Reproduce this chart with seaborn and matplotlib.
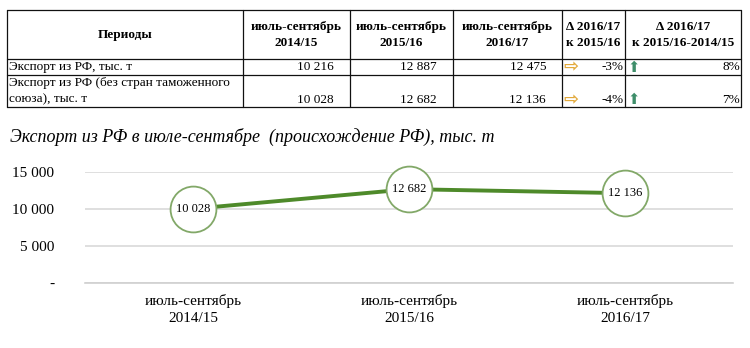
import matplotlib
matplotlib.use("Agg")
import matplotlib.pyplot as plt
import seaborn as sns
import pandas as pd

# ---- data ----
periods = ["июль-сентябрь\n2014/15", "июль-сентябрь\n2015/16", "июль-сентябрь\n2016/17"]
export_total = [10216, 12887, 12475]
export_no_cu = [10028, 12682, 12136]
delta_yoy = ["-3%", "-4%"]
delta_avg = ["8%", "7%"]
row_labels = ["Экспорт из РФ, тыс. т", "Экспорт из РФ (без стран таможенного\nсоюза), тыс. т"]
header_labels = ["Периоды", "июль-сентябрь\n2014/15", "июль-сентябрь\n2015/16",
                 "июль-сентябрь\n2016/17", "Δ 2016/17\nк 2015/16", "Δ 2016/17\nк 2015/16-2014/15"]
yticks = [0, 5000, 10000, 15000]
ytick_labels = ["-", "5 000", "10 000", "15 000"]
title = "Экспорт из РФ в июле-сентябре  (происхождение РФ), тыс. т"

def fmt(v):
    return f"{v:,}".replace(",", " ")

sns.set_theme(style="white")
plt.rcParams["font.family"] = ["Liberation Serif", "DejaVu Serif"]
plt.rcParams["text.color"] = "black"
plt.rcParams["xtick.color"] = "black"
plt.rcParams["ytick.color"] = "black"

W, H = 750, 348
fig = plt.figure(figsize=(W / 100, H / 100), dpi=100)

# overlay axes in pixel coords for table
ov = fig.add_axes([0, 0, 1, 1])
ov.set_xlim(0, W)
ov.set_ylim(H, 0)
ov.axis("off")

cols = [7, 243, 350, 453, 562, 625, 741]
rows = [10, 59, 75, 107]
lc = "#111111"
for x in cols:
    ov.plot([x, x], [rows[0], rows[-1]], color=lc, lw=0.9)
for y in rows:
    ov.plot([cols[0], cols[-1]], [y, y], color=lc, lw=0.9)

fs = 9.5
# header
for i, lab in enumerate(header_labels):
    xc = (cols[i] + cols[i + 1]) / 2
    ov.text(xc, 35, lab, ha="center", va="center", fontsize=fs, fontweight="bold",
            linespacing=1.5)

# rows
ov.text(cols[0] + 2, 67, row_labels[0], ha="left", va="center", fontsize=fs)
ov.text(cols[0] + 2, 91, row_labels[1], ha="left", va="center", fontsize=fs, linespacing=1.45)
row_y = [67, 100]
for r, vals in enumerate([export_total, export_no_cu]):
    for c, v in enumerate(vals):
        ov.text(cols[c + 2] - 16, row_y[r], fmt(v), ha="right", va="center", fontsize=fs)
    ov.text(cols[5] - 1, row_y[r], delta_yoy[r], ha="right", va="center", fontsize=fs)
    ov.text(cols[6] - 1, row_y[r], delta_avg[r], ha="right", va="center", fontsize=fs)
    ov.text(563, row_y[r], "⇨", ha="left", va="center", fontsize=13, color="#E2A93B",
            family=["DejaVu Sans"], fontweight="bold")
    ov.text(627, row_y[r], "⬆", ha="left", va="center", fontsize=10.5, color="#3E8E6A",
            family=["DejaVu Sans"])

# title
ov.text(10, 137, title, ha="left", va="center", fontsize=13, style="italic")

# ---- chart ----
left, right, bottom_px, top_px = 85, 733, 283, 172
ax = fig.add_axes([left / W, 1 - bottom_px / H, (right - left) / W, (bottom_px - top_px) / H])
df = pd.DataFrame({"period": periods, "value": export_no_cu})
df["x"] = range(len(periods))
sns.lineplot(data=df, x="x", y="value", ax=ax, color="#4E8A2A", lw=2.8,
             marker="o", markersize=33, markerfacecolor="white",
             markeredgecolor="#82A868", markeredgewidth=1.3, clip_on=False, zorder=5)
for xi, v in zip(df["x"], df["value"]):
    ax.text(xi, v, fmt(v), ha="center", va="center", fontsize=9, zorder=6)

ax.set_xlim(-0.5, 2.5)
ax.set_ylim(0, 15000)
ax.set_yticks(yticks)
ax.set_yticklabels(ytick_labels, fontsize=11)
ax.set_xticks(range(len(periods)))
ax.set_xticklabels(periods, fontsize=11, linespacing=1.35)
ax.set_xticks([-0.5, 0.5, 1.5, 2.5], minor=True)
ax.tick_params(axis="x", which="major", length=0, pad=8)
ax.tick_params(axis="x", which="minor", length=4, color="#d0d0d0", width=0.8, direction="out")
ax.tick_params(axis="y", length=0, pad=22)
ax.set_xlabel("")
ax.set_ylabel("")
ax.grid(axis="y", color="#d9d9d9", lw=1.2)
ax.grid(axis="x", visible=False)
for s in ["top", "right", "left"]:
    ax.spines[s].set_visible(False)
ax.spines["bottom"].set_color("#d0d0d0")
ax.spines["bottom"].set_linewidth(1.2)
ax.set_facecolor("none")

fig.savefig("out.png", dpi=100)
